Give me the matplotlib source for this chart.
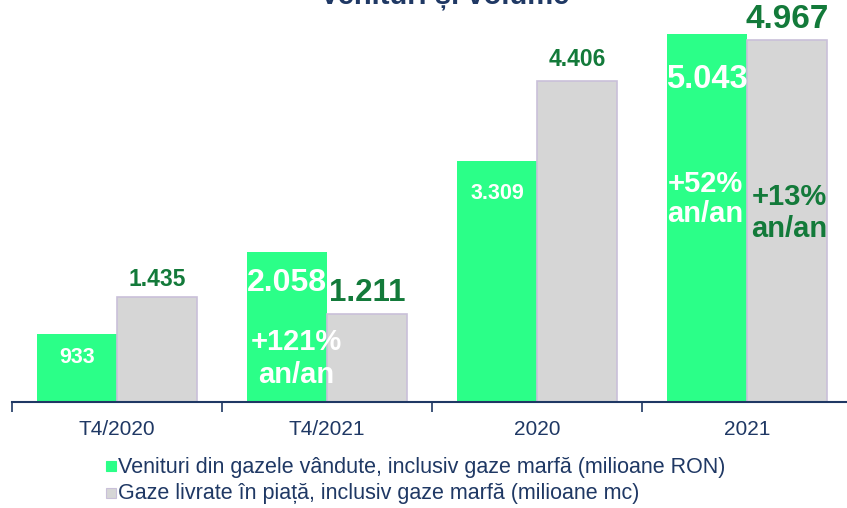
import numpy as np
import matplotlib.pyplot as plt
from matplotlib.patches import Rectangle

plt.rcParams['font.family'] = ['Liberation Sans', 'DejaVu Sans']

# date
categories = ['T4/2020', 'T4/2021', '2020', '2021']
venituri = [933, 2058, 3309, 5043]      # milioane RON
gaze = [1435, 1211, 4406, 4967]         # milioane mc
venituri_lbl = ['933', '2.058', '3.309', '5.043']
gaze_lbl = ['1.435', '1.211', '4.406', '4.967']
crestere_venituri = [None, '+121%\nan/an', None, '+52%\nan/an']
crestere_gaze = [None, None, None, '+13%\nan/an']
legend_labels = ['Venituri din gazele vândute, inclusiv gaze marfă (milioane RON)',
                 'Gaze livrate în piață, inclusiv gaze marfă (milioane mc)']
title = 'Venituri și volume'

GREEN = '#2BFF88'
GREY = '#D6D6D6'
EDGE = '#C9C0D9'
DKGREEN = '#137A3A'
NAVY = '#1F3864'

W, H = 847, 508
fig = plt.figure(figsize=(W / 100, H / 100), dpi=100)
ax = fig.add_axes([12 / W, (H - 402) / H, 840 / W, 401 / H])

x = np.arange(len(categories))
bw = 80 / 210
ax.bar(x - bw / 2, venituri, width=bw, color=GREEN, edgecolor=GREEN, linewidth=0, zorder=2)
ax.bar(x + bw / 2, gaze, width=bw, color=GREY, edgecolor=EDGE, linewidth=1.2, zorder=2)

ax.set_xlim(-0.5, 3.5)
ax.set_ylim(0, 5500)
for s in ['top', 'right', 'left']:
    ax.spines[s].set_visible(False)
ax.spines['bottom'].set_color(NAVY)
ax.spines['bottom'].set_linewidth(1.5)
ax.set_yticks([])
ax.set_xticks(np.arange(-0.5, 4, 1))
ax.set_xticklabels([])
ax.tick_params(axis='x', length=7, width=1.2, color=NAVY, direction='out')
for i, c in enumerate(categories):
    ax.text(i, -250, c, ha='center', va='top', fontsize=15, color=NAVY)

# etichete valori (decalaje fata de capatul barei)
v_off = [-316, -426, -456, -626]
g_off = [252, 284, 285, 273]
v_fs = [15.5, 23, 15.5, 23.5]
g_fs = [16.5, 22.5, 16.5, 24]
for i in range(len(categories)):
    ax.text(i - bw / 2, venituri[i] + v_off[i], venituri_lbl[i], ha='center', va='center',
            fontsize=v_fs[i], fontweight='bold', color='white', zorder=3)
    ax.text(i + bw / 2, gaze[i] + g_off[i], gaze_lbl[i], ha='center', va='center',
            fontsize=g_fs[i], fontweight='bold', color=DKGREEN, zorder=3)

ax.text(0.852, 600, crestere_venituri[1], ha='center', va='center',
        fontsize=21, fontweight='bold', color='white', linespacing=1.22, zorder=3)
ax.text(2.8, 2785, crestere_venituri[3], ha='center', va='center',
        fontsize=21, fontweight='bold', color='white', linespacing=1.12, zorder=3)
ax.text(3.2, 2593, crestere_gaze[3], ha='center', va='center',
        fontsize=21, fontweight='bold', color=DKGREEN, linespacing=1.2, zorder=3)

# titlu (taiat sus)
fig.text(445 / W, 1 - 3 / H, title, ha='center', va='baseline',
         fontsize=21, fontweight='bold', color=NAVY)

# legenda
for k, (lab, col) in enumerate(zip(legend_labels, [GREEN, GREY])):
    yc = 466 + 27 * k
    fig.patches.append(Rectangle((106 / W, 1 - (yc + 5) / H), 10 / W, 10 / H,
                                 transform=fig.transFigure, facecolor=col,
                                 edgecolor=EDGE if k else col, linewidth=0.8))
    fig.text(118 / W, 1 - (yc + 1) / H, lab, ha='left', va='center', fontsize=15.5, color=NAVY)

fig.savefig('out.png', dpi=100)
